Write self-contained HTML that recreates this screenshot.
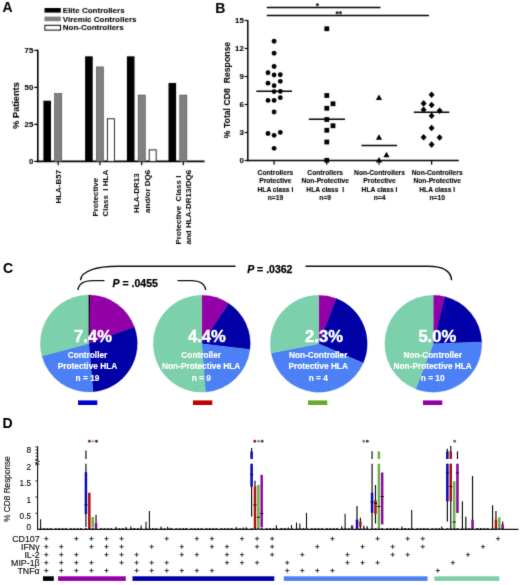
<!DOCTYPE html>
<html><head><meta charset="utf-8"><title>Figure</title>
<style>
html,body{margin:0;padding:0;background:#fff;}
body{width:520px;height:585px;overflow:hidden;}
svg{display:block;}
</style></head>
<body>
<svg width="520" height="585" viewBox="0 0 520 585">
<defs>
<filter id="soft" x="0" y="0" width="520" height="585" filterUnits="userSpaceOnUse" color-interpolation-filters="sRGB"><feConvolveMatrix order="3" kernelMatrix="0.03 0.17 0.03 0.17 1 0.17 0.03 0.17 0.03" divisor="1.800" edgeMode="duplicate" preserveAlpha="false"/></filter>
<filter id="soft2" x="0" y="0" width="520" height="585" filterUnits="userSpaceOnUse" color-interpolation-filters="sRGB"><feConvolveMatrix order="3" kernelMatrix="0.015 0.11 0.015 0.11 1 0.11 0.015 0.11 0.015" divisor="1.500" edgeMode="duplicate" preserveAlpha="false"/></filter>
</defs>
<rect width="520" height="585" fill="#fff"/>
<g filter="url(#soft2)">
<g id="panelC">
<text x="3" y="272.6" font-size="14" text-anchor="start" font-family="Liberation Sans, Arial, sans-serif" font-weight="bold" fill="#000" xml:space="preserve" stroke="#000" stroke-width="0.08" stroke-linejoin="round">C</text>
<path d="M88.80,343.50 L88.80,295.00 A48.5,48.5 0 0 1 90.15,295.02 Z" fill="#000" stroke="#000" stroke-width="0.3"/>
<path d="M88.80,343.50 L90.15,295.02 A48.5,48.5 0 0 1 134.38,326.91 Z" fill="#9400a8" stroke="#9400a8" stroke-width="0.3"/>
<path d="M88.80,343.50 L134.38,326.91 A48.5,48.5 0 0 1 93.03,391.82 Z" fill="#0000a6" stroke="#0000a6" stroke-width="0.3"/>
<path d="M88.80,343.50 L93.03,391.82 A48.5,48.5 0 0 1 41.95,356.05 Z" fill="#4c80f5" stroke="#4c80f5" stroke-width="0.3"/>
<path d="M88.80,343.50 L41.95,356.05 A48.5,48.5 0 0 1 88.80,295.00 Z" fill="#7dd0ac" stroke="#7dd0ac" stroke-width="0.3"/>
<line x1="89.20" y1="295.00" x2="89.20" y2="335.50" stroke="#000" stroke-width="1.0"/>
<text x="93" y="341.6" font-size="16.6" text-anchor="middle" font-family="Liberation Sans, Arial, sans-serif" font-weight="bold" fill="#fff" xml:space="preserve" stroke="#fff" stroke-width="0.45" stroke-linejoin="round">7.4%</text>
<text x="87.5" y="358.0" font-size="8.3" text-anchor="middle" font-family="Liberation Sans, Arial, sans-serif" font-weight="bold" fill="#fff" xml:space="preserve" stroke="#fff" stroke-width="0.15" stroke-linejoin="round">Controller</text>
<text x="87.5" y="369.2" font-size="8.3" text-anchor="middle" font-family="Liberation Sans, Arial, sans-serif" font-weight="bold" fill="#fff" xml:space="preserve" stroke="#fff" stroke-width="0.15" stroke-linejoin="round">Protective HLA</text>
<text x="87.5" y="380.5" font-size="8.3" text-anchor="middle" font-family="Liberation Sans, Arial, sans-serif" font-weight="bold" fill="#fff" xml:space="preserve" stroke="#fff" stroke-width="0.15" stroke-linejoin="round">n = 19</text>
<rect x="78.00" y="400.40" width="19.30" height="4.60" fill="#0000cc"/>
<path d="M201.75,343.70 L201.75,295.20 A48.5,48.5 0 0 1 228.73,303.40 Z" fill="#9400a8" stroke="#9400a8" stroke-width="0.3"/>
<path d="M201.75,343.70 L228.73,303.40 A48.5,48.5 0 0 1 249.91,349.44 Z" fill="#0000a6" stroke="#0000a6" stroke-width="0.3"/>
<path d="M201.75,343.70 L249.91,349.44 A48.5,48.5 0 0 1 205.47,392.06 Z" fill="#4c80f5" stroke="#4c80f5" stroke-width="0.3"/>
<path d="M201.75,343.70 L205.47,392.06 A48.5,48.5 0 1 1 201.75,295.20 Z" fill="#7dd0ac" stroke="#7dd0ac" stroke-width="0.3"/>
<text x="206.8" y="341.6" font-size="16.6" text-anchor="middle" font-family="Liberation Sans, Arial, sans-serif" font-weight="bold" fill="#fff" xml:space="preserve" stroke="#fff" stroke-width="0.45" stroke-linejoin="round">4.4%</text>
<text x="201.2" y="358.0" font-size="8.3" text-anchor="middle" font-family="Liberation Sans, Arial, sans-serif" font-weight="bold" fill="#fff" xml:space="preserve" stroke="#fff" stroke-width="0.15" stroke-linejoin="round">Controller</text>
<text x="201.2" y="369.2" font-size="8.3" text-anchor="middle" font-family="Liberation Sans, Arial, sans-serif" font-weight="bold" fill="#fff" xml:space="preserve" stroke="#fff" stroke-width="0.15" stroke-linejoin="round">Non-Protective HLA</text>
<text x="201.2" y="380.5" font-size="8.3" text-anchor="middle" font-family="Liberation Sans, Arial, sans-serif" font-weight="bold" fill="#fff" xml:space="preserve" stroke="#fff" stroke-width="0.15" stroke-linejoin="round">n = 9</text>
<rect x="193.00" y="400.40" width="19.30" height="4.60" fill="#c00000"/>
<path d="M318.75,343.70 L318.75,295.20 A48.5,48.5 0 0 1 336.37,298.51 Z" fill="#9400a8" stroke="#9400a8" stroke-width="0.3"/>
<path d="M318.75,343.70 L336.37,298.51 A48.5,48.5 0 0 1 363.23,363.04 Z" fill="#0000a6" stroke="#0000a6" stroke-width="0.3"/>
<path d="M318.75,343.70 L363.23,363.04 A48.5,48.5 0 0 1 271.14,352.95 Z" fill="#4c80f5" stroke="#4c80f5" stroke-width="0.3"/>
<path d="M318.75,343.70 L271.14,352.95 A48.5,48.5 0 0 1 318.75,295.20 Z" fill="#7dd0ac" stroke="#7dd0ac" stroke-width="0.3"/>
<text x="324" y="341.6" font-size="16.6" text-anchor="middle" font-family="Liberation Sans, Arial, sans-serif" font-weight="bold" fill="#fff" xml:space="preserve" stroke="#fff" stroke-width="0.45" stroke-linejoin="round">2.3%</text>
<text x="318.2" y="358.0" font-size="8.3" text-anchor="middle" font-family="Liberation Sans, Arial, sans-serif" font-weight="bold" fill="#fff" xml:space="preserve" stroke="#fff" stroke-width="0.15" stroke-linejoin="round">Non-Controller</text>
<text x="318.2" y="369.2" font-size="8.3" text-anchor="middle" font-family="Liberation Sans, Arial, sans-serif" font-weight="bold" fill="#fff" xml:space="preserve" stroke="#fff" stroke-width="0.15" stroke-linejoin="round">Protective HLA</text>
<text x="318.2" y="380.5" font-size="8.3" text-anchor="middle" font-family="Liberation Sans, Arial, sans-serif" font-weight="bold" fill="#fff" xml:space="preserve" stroke="#fff" stroke-width="0.15" stroke-linejoin="round">n = 4</text>
<rect x="308.00" y="400.40" width="19.30" height="4.60" fill="#6aaa2a"/>
<path d="M433.25,343.70 L433.25,295.20 A48.5,48.5 0 0 1 444.98,296.64 Z" fill="#9400a8" stroke="#9400a8" stroke-width="0.3"/>
<path d="M433.25,343.70 L444.98,296.64 A48.5,48.5 0 0 1 481.72,342.01 Z" fill="#0000a6" stroke="#0000a6" stroke-width="0.3"/>
<path d="M433.25,343.70 L481.72,342.01 A48.5,48.5 0 0 1 415.63,388.89 Z" fill="#4c80f5" stroke="#4c80f5" stroke-width="0.3"/>
<path d="M433.25,343.70 L415.63,388.89 A48.5,48.5 0 0 1 433.25,295.20 Z" fill="#7dd0ac" stroke="#7dd0ac" stroke-width="0.3"/>
<text x="437.3" y="341.6" font-size="16.6" text-anchor="middle" font-family="Liberation Sans, Arial, sans-serif" font-weight="bold" fill="#fff" xml:space="preserve" stroke="#fff" stroke-width="0.45" stroke-linejoin="round">5.0%</text>
<text x="432.7" y="358.0" font-size="8.3" text-anchor="middle" font-family="Liberation Sans, Arial, sans-serif" font-weight="bold" fill="#fff" xml:space="preserve" stroke="#fff" stroke-width="0.15" stroke-linejoin="round">Non-Controller</text>
<text x="432.7" y="369.2" font-size="8.3" text-anchor="middle" font-family="Liberation Sans, Arial, sans-serif" font-weight="bold" fill="#fff" xml:space="preserve" stroke="#fff" stroke-width="0.15" stroke-linejoin="round">Non-Protective HLA</text>
<text x="432.7" y="380.5" font-size="8.3" text-anchor="middle" font-family="Liberation Sans, Arial, sans-serif" font-weight="bold" fill="#fff" xml:space="preserve" stroke="#fff" stroke-width="0.15" stroke-linejoin="round">n = 10</text>
<rect x="423.00" y="400.40" width="19.30" height="4.60" fill="#9400a8"/>
<path d="M80.5,280.2 C81,271 96,266.3 118,266.3 L235.5,266.3" fill="none" stroke="#111" stroke-width="1.4"/>
<path d="M305.5,266.3 L428,266.3 C444,266.3 451,272 451.6,280.2" fill="none" stroke="#111" stroke-width="1.4"/>
<path d="M78,290 C78.5,284 84,280.6 93,280.6 L104.5,280.6" fill="none" stroke="#111" stroke-width="1.4"/>
<path d="M177.5,280.6 L191,280.6 C200,280.6 205,284 205.6,290" fill="none" stroke="#111" stroke-width="1.4"/>
<text x="112.6" y="287.0" font-size="10.5" font-family="Liberation Sans, Arial, sans-serif" font-weight="bold" fill="#000" stroke="#000" stroke-width="0.25" xml:space="preserve"><tspan font-style="italic">P</tspan> = .0455</text>
<text x="247.2" y="272.6" font-size="10.5" font-family="Liberation Sans, Arial, sans-serif" font-weight="bold" fill="#000" stroke="#000" stroke-width="0.25" xml:space="preserve"><tspan font-style="italic">P</tspan> = .0362</text>
</g>
<g id="panelD">
<text x="2.5" y="428.2" font-size="14" text-anchor="start" font-family="Liberation Sans, Arial, sans-serif" font-weight="bold" fill="#000" xml:space="preserve" stroke="#000" stroke-width="0.08" stroke-linejoin="round">D</text>
<line x1="37.60" y1="464.00" x2="37.60" y2="530.00" stroke="#111" stroke-width="1.1"/>
<line x1="37.60" y1="446.60" x2="37.60" y2="460.20" stroke="#111" stroke-width="1.2"/>
<path d="M35.4,460.2 L39.4,461.4 L35.4,463 L39.4,464.2" fill="none" stroke="#111" stroke-width="1"/>
<line x1="35.40" y1="446.90" x2="37.60" y2="446.90" stroke="#111" stroke-width="0.9"/>
<line x1="35.40" y1="450.00" x2="37.60" y2="450.00" stroke="#111" stroke-width="0.9"/>
<line x1="35.40" y1="453.10" x2="37.60" y2="453.10" stroke="#111" stroke-width="0.9"/>
<line x1="35.40" y1="456.20" x2="37.60" y2="456.20" stroke="#111" stroke-width="0.9"/>
<line x1="35.40" y1="459.30" x2="37.60" y2="459.30" stroke="#111" stroke-width="0.9"/>
<line x1="37.00" y1="529.40" x2="518.50" y2="529.40" stroke="#111" stroke-width="1.2"/>
<line x1="35.40" y1="464.70" x2="37.60" y2="464.70" stroke="#111" stroke-width="0.9"/>
<text x="31.0" y="470" font-size="8.2" text-anchor="end" font-family="Liberation Sans, Arial, sans-serif" fill="#111" xml:space="preserve" stroke="#111" stroke-width="0.15" stroke-linejoin="round">2</text>
<line x1="35.40" y1="480.88" x2="37.60" y2="480.88" stroke="#111" stroke-width="0.9"/>
<text x="31.0" y="486" font-size="8.2" text-anchor="end" font-family="Liberation Sans, Arial, sans-serif" fill="#111" xml:space="preserve" stroke="#111" stroke-width="0.15" stroke-linejoin="round">1.5</text>
<line x1="35.40" y1="497.05" x2="37.60" y2="497.05" stroke="#111" stroke-width="0.9"/>
<text x="31.0" y="503" font-size="8.2" text-anchor="end" font-family="Liberation Sans, Arial, sans-serif" fill="#111" xml:space="preserve" stroke="#111" stroke-width="0.15" stroke-linejoin="round">1</text>
<line x1="35.40" y1="513.23" x2="37.60" y2="513.23" stroke="#111" stroke-width="0.9"/>
<text x="31.0" y="519" font-size="8.2" text-anchor="end" font-family="Liberation Sans, Arial, sans-serif" fill="#111" xml:space="preserve" stroke="#111" stroke-width="0.15" stroke-linejoin="round">0.5</text>
<text x="31.0" y="530" font-size="8.2" text-anchor="end" font-family="Liberation Sans, Arial, sans-serif" fill="#111" xml:space="preserve" stroke="#111" stroke-width="0.15" stroke-linejoin="round">0</text>
<text x="31.0" y="453" font-size="8.2" text-anchor="end" font-family="Liberation Sans, Arial, sans-serif" fill="#111" xml:space="preserve" stroke="#111" stroke-width="0.15" stroke-linejoin="round">8</text>
<text x="10.0" y="489" font-size="8.25" text-anchor="middle" font-family="Liberation Sans, Arial, sans-serif" fill="#111" xml:space="preserve" transform="rotate(-90 10.0 489)" stroke="#111" stroke-width="0.15" stroke-linejoin="round">% CD8 Response</text>
<line x1="40.60" y1="519.30" x2="40.60" y2="529.40" stroke="#111" stroke-width="1.1"/>
<line x1="116.00" y1="526.70" x2="116.00" y2="529.40" stroke="#111" stroke-width="1.1"/>
<line x1="126.00" y1="527.00" x2="126.00" y2="529.40" stroke="#111" stroke-width="1.1"/>
<line x1="130.80" y1="526.50" x2="130.80" y2="529.40" stroke="#111" stroke-width="1.1"/>
<line x1="133.90" y1="528.00" x2="133.90" y2="529.40" stroke="#111" stroke-width="1.1"/>
<line x1="141.10" y1="525.50" x2="141.10" y2="529.40" stroke="#111" stroke-width="1.1"/>
<line x1="146.00" y1="521.70" x2="146.00" y2="529.40" stroke="#111" stroke-width="1.1"/>
<line x1="149.40" y1="511.10" x2="149.40" y2="529.40" stroke="#111" stroke-width="1.1"/>
<line x1="161.00" y1="526.50" x2="161.00" y2="529.40" stroke="#111" stroke-width="1.1"/>
<line x1="167.60" y1="526.70" x2="167.60" y2="529.40" stroke="#111" stroke-width="1.1"/>
<line x1="170.50" y1="527.80" x2="170.50" y2="529.40" stroke="#111" stroke-width="1.1"/>
<line x1="185.80" y1="528.00" x2="185.80" y2="529.40" stroke="#111" stroke-width="1.1"/>
<line x1="236.30" y1="527.00" x2="236.30" y2="529.40" stroke="#111" stroke-width="1.1"/>
<line x1="243.20" y1="527.50" x2="243.20" y2="529.40" stroke="#111" stroke-width="1.1"/>
<line x1="246.20" y1="527.20" x2="246.20" y2="529.40" stroke="#111" stroke-width="1.1"/>
<line x1="276.40" y1="525.30" x2="276.40" y2="529.40" stroke="#111" stroke-width="1.1"/>
<line x1="281.00" y1="528.00" x2="281.00" y2="529.40" stroke="#111" stroke-width="1.1"/>
<line x1="284.40" y1="528.00" x2="284.40" y2="529.40" stroke="#111" stroke-width="1.1"/>
<line x1="288.30" y1="527.60" x2="288.30" y2="529.40" stroke="#111" stroke-width="1.1"/>
<line x1="291.50" y1="525.00" x2="291.50" y2="529.40" stroke="#111" stroke-width="1.1"/>
<line x1="296.50" y1="522.50" x2="296.50" y2="529.40" stroke="#111" stroke-width="1.1"/>
<line x1="299.80" y1="523.50" x2="299.80" y2="529.40" stroke="#111" stroke-width="1.1"/>
<line x1="306.50" y1="512.90" x2="306.50" y2="529.40" stroke="#111" stroke-width="1.1"/>
<line x1="341.70" y1="526.30" x2="341.70" y2="529.40" stroke="#111" stroke-width="1.1"/>
<line x1="345.10" y1="513.80" x2="345.10" y2="529.40" stroke="#111" stroke-width="1.1"/>
<line x1="402.00" y1="526.50" x2="402.00" y2="529.40" stroke="#111" stroke-width="1.1"/>
<line x1="404.80" y1="528.00" x2="404.80" y2="529.40" stroke="#111" stroke-width="1.1"/>
<line x1="411.70" y1="510.00" x2="411.70" y2="529.40" stroke="#111" stroke-width="1.1"/>
<line x1="441.70" y1="526.50" x2="441.70" y2="529.40" stroke="#111" stroke-width="1.1"/>
<line x1="477.00" y1="528.00" x2="477.00" y2="529.40" stroke="#111" stroke-width="1.1"/>
<line x1="480.60" y1="528.00" x2="480.60" y2="529.40" stroke="#111" stroke-width="1.1"/>
<line x1="85.93" y1="450.60" x2="85.93" y2="459.00" stroke="#111" stroke-width="1.2"/>
<line x1="85.93" y1="463.80" x2="85.93" y2="527.00" stroke="#111" stroke-width="1.2"/>
<line x1="85.93" y1="472.20" x2="85.93" y2="514.00" stroke="#0a0ab8" stroke-width="2.5"/>
<line x1="84.33" y1="505.00" x2="87.53" y2="505.00" stroke="#111" stroke-width="1.0"/>
<line x1="89.33" y1="492.80" x2="89.33" y2="529.40" stroke="#b01010" stroke-width="2.5"/>
<line x1="92.73" y1="517.00" x2="92.73" y2="527.60" stroke="#6eaf4b" stroke-width="2.5"/>
<line x1="96.03" y1="514.80" x2="96.03" y2="529.40" stroke="#111" stroke-width="1.2"/>
<line x1="96.03" y1="523.00" x2="96.03" y2="529.40" stroke="#8a0aa0" stroke-width="2.5"/>
<line x1="251.59" y1="448.00" x2="251.59" y2="459.00" stroke="#111" stroke-width="1.2"/>
<line x1="251.59" y1="463.80" x2="251.59" y2="516.60" stroke="#111" stroke-width="1.2"/>
<line x1="251.59" y1="451.40" x2="251.59" y2="459.00" stroke="#0a0ab8" stroke-width="2.5"/>
<line x1="251.59" y1="463.80" x2="251.59" y2="486.70" stroke="#0a0ab8" stroke-width="2.5"/>
<line x1="249.99" y1="474.40" x2="253.19" y2="474.40" stroke="#111" stroke-width="1.0"/>
<line x1="254.99" y1="480.80" x2="254.99" y2="529.40" stroke="#111" stroke-width="1.2"/>
<line x1="254.99" y1="486.70" x2="254.99" y2="529.40" stroke="#b01010" stroke-width="2.5"/>
<line x1="253.39" y1="504.90" x2="256.59" y2="504.90" stroke="#111" stroke-width="1.0"/>
<line x1="258.39" y1="485.00" x2="258.39" y2="529.40" stroke="#6eaf4b" stroke-width="2.5"/>
<line x1="256.79" y1="517.20" x2="259.99" y2="517.20" stroke="#111" stroke-width="1.0"/>
<line x1="261.69" y1="474.80" x2="261.69" y2="527.40" stroke="#8a0aa0" stroke-width="2.5"/>
<line x1="260.09" y1="513.50" x2="263.29" y2="513.50" stroke="#111" stroke-width="1.0"/>
<line x1="352.05" y1="525.40" x2="352.05" y2="529.40" stroke="#8a0aa0" stroke-width="2.5"/>
<line x1="357.01" y1="506.10" x2="357.01" y2="529.40" stroke="#111" stroke-width="1.2"/>
<line x1="357.01" y1="519.60" x2="357.01" y2="529.40" stroke="#0a0ab8" stroke-width="2.5"/>
<line x1="360.41" y1="517.70" x2="360.41" y2="528.00" stroke="#111" stroke-width="1.2"/>
<line x1="360.41" y1="521.50" x2="360.41" y2="526.50" stroke="#b01010" stroke-width="2.5"/>
<line x1="363.81" y1="525.80" x2="363.81" y2="529.40" stroke="#111" stroke-width="1.2"/>
<line x1="367.11" y1="526.30" x2="367.11" y2="529.40" stroke="#111" stroke-width="1.2"/>
<line x1="372.07" y1="451.30" x2="372.07" y2="459.00" stroke="#111" stroke-width="1.2"/>
<line x1="372.07" y1="463.80" x2="372.07" y2="529.40" stroke="#111" stroke-width="1.2"/>
<line x1="372.07" y1="492.70" x2="372.07" y2="512.90" stroke="#0a0ab8" stroke-width="2.5"/>
<line x1="370.47" y1="502.00" x2="373.67" y2="502.00" stroke="#111" stroke-width="1.0"/>
<line x1="375.47" y1="485.00" x2="375.47" y2="523.50" stroke="#111" stroke-width="1.2"/>
<line x1="375.47" y1="500.40" x2="375.47" y2="513.80" stroke="#b01010" stroke-width="2.5"/>
<line x1="373.87" y1="503.30" x2="377.07" y2="503.30" stroke="#111" stroke-width="1.0"/>
<line x1="378.87" y1="451.30" x2="378.87" y2="459.00" stroke="#6eaf4b" stroke-width="2.5"/>
<line x1="378.87" y1="463.80" x2="378.87" y2="528.30" stroke="#6eaf4b" stroke-width="2.5"/>
<line x1="377.27" y1="506.50" x2="380.47" y2="506.50" stroke="#111" stroke-width="1.0"/>
<line x1="382.17" y1="472.50" x2="382.17" y2="524.40" stroke="#8a0aa0" stroke-width="2.5"/>
<line x1="380.57" y1="496.50" x2="383.77" y2="496.50" stroke="#111" stroke-width="1.0"/>
<line x1="447.37" y1="448.80" x2="447.37" y2="459.00" stroke="#111" stroke-width="1.2"/>
<line x1="447.37" y1="463.80" x2="447.37" y2="521.50" stroke="#111" stroke-width="1.2"/>
<line x1="447.37" y1="451.30" x2="447.37" y2="459.00" stroke="#0a0ab8" stroke-width="2.5"/>
<line x1="447.37" y1="463.80" x2="447.37" y2="501.30" stroke="#0a0ab8" stroke-width="2.5"/>
<line x1="445.77" y1="472.90" x2="448.97" y2="472.90" stroke="#111" stroke-width="1.0"/>
<line x1="450.77" y1="446.00" x2="450.77" y2="459.00" stroke="#111" stroke-width="1.2"/>
<line x1="450.77" y1="463.80" x2="450.77" y2="529.40" stroke="#111" stroke-width="1.2"/>
<line x1="450.77" y1="451.30" x2="450.77" y2="459.00" stroke="#b01010" stroke-width="2.5"/>
<line x1="450.77" y1="463.80" x2="450.77" y2="501.30" stroke="#b01010" stroke-width="2.5"/>
<line x1="449.17" y1="486.50" x2="452.37" y2="486.50" stroke="#111" stroke-width="1.0"/>
<line x1="454.17" y1="481.20" x2="454.17" y2="528.80" stroke="#6eaf4b" stroke-width="2.5"/>
<line x1="452.57" y1="522.00" x2="455.77" y2="522.00" stroke="#111" stroke-width="1.0"/>
<line x1="457.47" y1="451.30" x2="457.47" y2="459.00" stroke="#111" stroke-width="1.2"/>
<line x1="457.47" y1="463.80" x2="457.47" y2="512.90" stroke="#111" stroke-width="1.2"/>
<line x1="457.47" y1="463.80" x2="457.47" y2="512.90" stroke="#8a0aa0" stroke-width="2.5"/>
<line x1="455.87" y1="473.00" x2="459.07" y2="473.00" stroke="#111" stroke-width="1.0"/>
<line x1="462.43" y1="501.30" x2="462.43" y2="529.40" stroke="#111" stroke-width="1.2"/>
<line x1="465.83" y1="516.70" x2="465.83" y2="529.40" stroke="#111" stroke-width="1.2"/>
<line x1="472.53" y1="476.00" x2="472.53" y2="529.40" stroke="#111" stroke-width="1.2"/>
<line x1="472.53" y1="519.60" x2="472.53" y2="529.40" stroke="#8a0aa0" stroke-width="2.5"/>
<line x1="492.55" y1="505.20" x2="492.55" y2="529.40" stroke="#111" stroke-width="1.2"/>
<line x1="495.95" y1="511.00" x2="495.95" y2="529.40" stroke="#111" stroke-width="1.2"/>
<line x1="495.95" y1="519.60" x2="495.95" y2="529.40" stroke="#b01010" stroke-width="2.5"/>
<line x1="499.35" y1="517.30" x2="499.35" y2="529.40" stroke="#6eaf4b" stroke-width="2.5"/>
<line x1="502.65" y1="521.50" x2="502.65" y2="529.40" stroke="#111" stroke-width="1.2"/>
<line x1="502.65" y1="524.40" x2="502.65" y2="529.40" stroke="#8a0aa0" stroke-width="2.5"/>
<circle cx="89.40" cy="441.2" r="1.45" fill="#7a3a28"/>
<circle cx="93.00" cy="441.2" r="1.45" fill="#b8aea0"/>
<circle cx="96.50" cy="441.2" r="1.45" fill="#4a2a6a"/>
<circle cx="254.80" cy="441.2" r="1.45" fill="#8c2034"/>
<circle cx="258.50" cy="441.2" r="1.45" fill="#9a9a7c"/>
<circle cx="262.10" cy="441.2" r="1.45" fill="#504678"/>
<circle cx="363.70" cy="441.2" r="1.45" fill="#848e7a"/>
<circle cx="367.30" cy="441.2" r="1.45" fill="#50405c"/>
<circle cx="454.65" cy="441.2" r="1.45" fill="#667f54"/>
<path d="M39.75,528.50h2M43.15,528.50h2M46.55,528.50h2M49.85,528.50h2M54.81,528.50h2M58.21,528.50h2M61.61,528.50h2M64.91,528.50h2M69.87,528.50h2M73.27,528.50h2M76.67,528.50h2M79.97,528.50h2M84.93,528.50h2M88.33,528.50h2M91.73,528.50h2M95.03,528.50h2M99.99,528.50h2M103.39,528.50h2M106.79,528.50h2M110.09,528.50h2M115.05,528.50h2M118.45,528.50h2M121.85,528.50h2M125.15,528.50h2M130.11,528.50h2M133.51,528.50h2M136.91,528.50h2M140.21,528.50h2M145.17,528.50h2M148.57,528.50h2M151.97,528.50h2M155.27,528.50h2M160.23,528.50h2M163.63,528.50h2M167.03,528.50h2M170.33,528.50h2M175.29,528.50h2M178.69,528.50h2M182.09,528.50h2M185.39,528.50h2M190.35,528.50h2M193.75,528.50h2M197.15,528.50h2M200.45,528.50h2M205.41,528.50h2M208.81,528.50h2M212.21,528.50h2M215.51,528.50h2M220.47,528.50h2M223.87,528.50h2M227.27,528.50h2M230.57,528.50h2M235.53,528.50h2M238.93,528.50h2M242.33,528.50h2M245.63,528.50h2M250.59,528.50h2M253.99,528.50h2M257.39,528.50h2M260.69,528.50h2M265.65,528.50h2M269.05,528.50h2M272.45,528.50h2M275.75,528.50h2M280.71,528.50h2M284.11,528.50h2M287.51,528.50h2M290.81,528.50h2M295.77,528.50h2M299.17,528.50h2M302.57,528.50h2M305.87,528.50h2M310.83,528.50h2M314.23,528.50h2M317.63,528.50h2M320.93,528.50h2M325.89,528.50h2M329.29,528.50h2M332.69,528.50h2M335.99,528.50h2M340.95,528.50h2M344.35,528.50h2M347.75,528.50h2M351.05,528.50h2M356.01,528.50h2M359.41,528.50h2M362.81,528.50h2M366.11,528.50h2M371.07,528.50h2M374.47,528.50h2M377.87,528.50h2M381.17,528.50h2M386.13,528.50h2M389.53,528.50h2M392.93,528.50h2M396.23,528.50h2M401.19,528.50h2M404.59,528.50h2M407.99,528.50h2M411.29,528.50h2M416.25,528.50h2M419.65,528.50h2M423.05,528.50h2M426.35,528.50h2M431.31,528.50h2M434.71,528.50h2M438.11,528.50h2M441.41,528.50h2M446.37,528.50h2M449.77,528.50h2M453.17,528.50h2M456.47,528.50h2M461.43,528.50h2M464.83,528.50h2M468.23,528.50h2M471.53,528.50h2M476.49,528.50h2M479.89,528.50h2M483.29,528.50h2M486.59,528.50h2M491.55,528.50h2M494.95,528.50h2M498.35,528.50h2M501.65,528.50h2" stroke="#222" stroke-width="0.9" fill="none"/>
<text x="39.6" y="541.9000000000001" font-size="8.8" text-anchor="end" font-family="Liberation Sans, Arial, sans-serif" fill="#111" xml:space="preserve" stroke="#111" stroke-width="0.15" stroke-linejoin="round">CD107</text>
<text x="39.6" y="549.9000000000001" font-size="8.8" text-anchor="end" font-family="Liberation Sans, Arial, sans-serif" fill="#111" xml:space="preserve" stroke="#111" stroke-width="0.15" stroke-linejoin="round">IFNγ</text>
<text x="39.6" y="557.9000000000001" font-size="8.8" text-anchor="end" font-family="Liberation Sans, Arial, sans-serif" fill="#111" xml:space="preserve" stroke="#111" stroke-width="0.15" stroke-linejoin="round">IL-2</text>
<text x="39.6" y="565.9000000000001" font-size="8.8" text-anchor="end" font-family="Liberation Sans, Arial, sans-serif" fill="#111" xml:space="preserve" stroke="#111" stroke-width="0.15" stroke-linejoin="round">MIP-1β</text>
<text x="39.6" y="573.8000000000001" font-size="8.8" text-anchor="end" font-family="Liberation Sans, Arial, sans-serif" fill="#111" xml:space="preserve" stroke="#111" stroke-width="0.15" stroke-linejoin="round">TNFα</text>
<line x1="44.15" y1="538.70" x2="48.35" y2="538.70" stroke="#222" stroke-width="0.9"/>
<line x1="46.25" y1="536.60" x2="46.25" y2="540.80" stroke="#222" stroke-width="0.9"/>
<line x1="44.15" y1="546.70" x2="48.35" y2="546.70" stroke="#222" stroke-width="0.9"/>
<line x1="46.25" y1="544.60" x2="46.25" y2="548.80" stroke="#222" stroke-width="0.9"/>
<line x1="44.15" y1="554.70" x2="48.35" y2="554.70" stroke="#222" stroke-width="0.9"/>
<line x1="46.25" y1="552.60" x2="46.25" y2="556.80" stroke="#222" stroke-width="0.9"/>
<line x1="44.15" y1="562.70" x2="48.35" y2="562.70" stroke="#222" stroke-width="0.9"/>
<line x1="46.25" y1="560.60" x2="46.25" y2="564.80" stroke="#222" stroke-width="0.9"/>
<line x1="44.15" y1="570.60" x2="48.35" y2="570.60" stroke="#222" stroke-width="0.9"/>
<line x1="46.25" y1="568.50" x2="46.25" y2="572.70" stroke="#222" stroke-width="0.9"/>
<line x1="59.21" y1="546.70" x2="63.41" y2="546.70" stroke="#222" stroke-width="0.9"/>
<line x1="61.31" y1="544.60" x2="61.31" y2="548.80" stroke="#222" stroke-width="0.9"/>
<line x1="59.21" y1="554.70" x2="63.41" y2="554.70" stroke="#222" stroke-width="0.9"/>
<line x1="61.31" y1="552.60" x2="61.31" y2="556.80" stroke="#222" stroke-width="0.9"/>
<line x1="59.21" y1="562.70" x2="63.41" y2="562.70" stroke="#222" stroke-width="0.9"/>
<line x1="61.31" y1="560.60" x2="61.31" y2="564.80" stroke="#222" stroke-width="0.9"/>
<line x1="59.21" y1="570.60" x2="63.41" y2="570.60" stroke="#222" stroke-width="0.9"/>
<line x1="61.31" y1="568.50" x2="61.31" y2="572.70" stroke="#222" stroke-width="0.9"/>
<line x1="74.27" y1="538.70" x2="78.47" y2="538.70" stroke="#222" stroke-width="0.9"/>
<line x1="76.37" y1="536.60" x2="76.37" y2="540.80" stroke="#222" stroke-width="0.9"/>
<line x1="74.27" y1="554.70" x2="78.47" y2="554.70" stroke="#222" stroke-width="0.9"/>
<line x1="76.37" y1="552.60" x2="76.37" y2="556.80" stroke="#222" stroke-width="0.9"/>
<line x1="74.27" y1="562.70" x2="78.47" y2="562.70" stroke="#222" stroke-width="0.9"/>
<line x1="76.37" y1="560.60" x2="76.37" y2="564.80" stroke="#222" stroke-width="0.9"/>
<line x1="74.27" y1="570.60" x2="78.47" y2="570.60" stroke="#222" stroke-width="0.9"/>
<line x1="76.37" y1="568.50" x2="76.37" y2="572.70" stroke="#222" stroke-width="0.9"/>
<line x1="89.33" y1="538.70" x2="93.53" y2="538.70" stroke="#222" stroke-width="0.9"/>
<line x1="91.43" y1="536.60" x2="91.43" y2="540.80" stroke="#222" stroke-width="0.9"/>
<line x1="89.33" y1="546.70" x2="93.53" y2="546.70" stroke="#222" stroke-width="0.9"/>
<line x1="91.43" y1="544.60" x2="91.43" y2="548.80" stroke="#222" stroke-width="0.9"/>
<line x1="89.33" y1="562.70" x2="93.53" y2="562.70" stroke="#222" stroke-width="0.9"/>
<line x1="91.43" y1="560.60" x2="91.43" y2="564.80" stroke="#222" stroke-width="0.9"/>
<line x1="89.33" y1="570.60" x2="93.53" y2="570.60" stroke="#222" stroke-width="0.9"/>
<line x1="91.43" y1="568.50" x2="91.43" y2="572.70" stroke="#222" stroke-width="0.9"/>
<line x1="104.39" y1="538.70" x2="108.59" y2="538.70" stroke="#222" stroke-width="0.9"/>
<line x1="106.49" y1="536.60" x2="106.49" y2="540.80" stroke="#222" stroke-width="0.9"/>
<line x1="104.39" y1="546.70" x2="108.59" y2="546.70" stroke="#222" stroke-width="0.9"/>
<line x1="106.49" y1="544.60" x2="106.49" y2="548.80" stroke="#222" stroke-width="0.9"/>
<line x1="104.39" y1="554.70" x2="108.59" y2="554.70" stroke="#222" stroke-width="0.9"/>
<line x1="106.49" y1="552.60" x2="106.49" y2="556.80" stroke="#222" stroke-width="0.9"/>
<line x1="104.39" y1="570.60" x2="108.59" y2="570.60" stroke="#222" stroke-width="0.9"/>
<line x1="106.49" y1="568.50" x2="106.49" y2="572.70" stroke="#222" stroke-width="0.9"/>
<line x1="119.45" y1="538.70" x2="123.65" y2="538.70" stroke="#222" stroke-width="0.9"/>
<line x1="121.55" y1="536.60" x2="121.55" y2="540.80" stroke="#222" stroke-width="0.9"/>
<line x1="119.45" y1="546.70" x2="123.65" y2="546.70" stroke="#222" stroke-width="0.9"/>
<line x1="121.55" y1="544.60" x2="121.55" y2="548.80" stroke="#222" stroke-width="0.9"/>
<line x1="119.45" y1="554.70" x2="123.65" y2="554.70" stroke="#222" stroke-width="0.9"/>
<line x1="121.55" y1="552.60" x2="121.55" y2="556.80" stroke="#222" stroke-width="0.9"/>
<line x1="119.45" y1="562.70" x2="123.65" y2="562.70" stroke="#222" stroke-width="0.9"/>
<line x1="121.55" y1="560.60" x2="121.55" y2="564.80" stroke="#222" stroke-width="0.9"/>
<line x1="134.51" y1="554.70" x2="138.71" y2="554.70" stroke="#222" stroke-width="0.9"/>
<line x1="136.61" y1="552.60" x2="136.61" y2="556.80" stroke="#222" stroke-width="0.9"/>
<line x1="134.51" y1="562.70" x2="138.71" y2="562.70" stroke="#222" stroke-width="0.9"/>
<line x1="136.61" y1="560.60" x2="136.61" y2="564.80" stroke="#222" stroke-width="0.9"/>
<line x1="134.51" y1="570.60" x2="138.71" y2="570.60" stroke="#222" stroke-width="0.9"/>
<line x1="136.61" y1="568.50" x2="136.61" y2="572.70" stroke="#222" stroke-width="0.9"/>
<line x1="149.57" y1="546.70" x2="153.77" y2="546.70" stroke="#222" stroke-width="0.9"/>
<line x1="151.67" y1="544.60" x2="151.67" y2="548.80" stroke="#222" stroke-width="0.9"/>
<line x1="149.57" y1="562.70" x2="153.77" y2="562.70" stroke="#222" stroke-width="0.9"/>
<line x1="151.67" y1="560.60" x2="151.67" y2="564.80" stroke="#222" stroke-width="0.9"/>
<line x1="149.57" y1="570.60" x2="153.77" y2="570.60" stroke="#222" stroke-width="0.9"/>
<line x1="151.67" y1="568.50" x2="151.67" y2="572.70" stroke="#222" stroke-width="0.9"/>
<line x1="164.63" y1="538.70" x2="168.83" y2="538.70" stroke="#222" stroke-width="0.9"/>
<line x1="166.73" y1="536.60" x2="166.73" y2="540.80" stroke="#222" stroke-width="0.9"/>
<line x1="164.63" y1="562.70" x2="168.83" y2="562.70" stroke="#222" stroke-width="0.9"/>
<line x1="166.73" y1="560.60" x2="166.73" y2="564.80" stroke="#222" stroke-width="0.9"/>
<line x1="164.63" y1="570.60" x2="168.83" y2="570.60" stroke="#222" stroke-width="0.9"/>
<line x1="166.73" y1="568.50" x2="166.73" y2="572.70" stroke="#222" stroke-width="0.9"/>
<line x1="179.69" y1="546.70" x2="183.89" y2="546.70" stroke="#222" stroke-width="0.9"/>
<line x1="181.79" y1="544.60" x2="181.79" y2="548.80" stroke="#222" stroke-width="0.9"/>
<line x1="179.69" y1="554.70" x2="183.89" y2="554.70" stroke="#222" stroke-width="0.9"/>
<line x1="181.79" y1="552.60" x2="181.79" y2="556.80" stroke="#222" stroke-width="0.9"/>
<line x1="179.69" y1="570.60" x2="183.89" y2="570.60" stroke="#222" stroke-width="0.9"/>
<line x1="181.79" y1="568.50" x2="181.79" y2="572.70" stroke="#222" stroke-width="0.9"/>
<line x1="194.75" y1="538.70" x2="198.95" y2="538.70" stroke="#222" stroke-width="0.9"/>
<line x1="196.85" y1="536.60" x2="196.85" y2="540.80" stroke="#222" stroke-width="0.9"/>
<line x1="194.75" y1="554.70" x2="198.95" y2="554.70" stroke="#222" stroke-width="0.9"/>
<line x1="196.85" y1="552.60" x2="196.85" y2="556.80" stroke="#222" stroke-width="0.9"/>
<line x1="194.75" y1="570.60" x2="198.95" y2="570.60" stroke="#222" stroke-width="0.9"/>
<line x1="196.85" y1="568.50" x2="196.85" y2="572.70" stroke="#222" stroke-width="0.9"/>
<line x1="209.81" y1="538.70" x2="214.01" y2="538.70" stroke="#222" stroke-width="0.9"/>
<line x1="211.91" y1="536.60" x2="211.91" y2="540.80" stroke="#222" stroke-width="0.9"/>
<line x1="209.81" y1="546.70" x2="214.01" y2="546.70" stroke="#222" stroke-width="0.9"/>
<line x1="211.91" y1="544.60" x2="211.91" y2="548.80" stroke="#222" stroke-width="0.9"/>
<line x1="209.81" y1="570.60" x2="214.01" y2="570.60" stroke="#222" stroke-width="0.9"/>
<line x1="211.91" y1="568.50" x2="211.91" y2="572.70" stroke="#222" stroke-width="0.9"/>
<line x1="224.87" y1="546.70" x2="229.07" y2="546.70" stroke="#222" stroke-width="0.9"/>
<line x1="226.97" y1="544.60" x2="226.97" y2="548.80" stroke="#222" stroke-width="0.9"/>
<line x1="224.87" y1="554.70" x2="229.07" y2="554.70" stroke="#222" stroke-width="0.9"/>
<line x1="226.97" y1="552.60" x2="226.97" y2="556.80" stroke="#222" stroke-width="0.9"/>
<line x1="224.87" y1="562.70" x2="229.07" y2="562.70" stroke="#222" stroke-width="0.9"/>
<line x1="226.97" y1="560.60" x2="226.97" y2="564.80" stroke="#222" stroke-width="0.9"/>
<line x1="239.93" y1="538.70" x2="244.13" y2="538.70" stroke="#222" stroke-width="0.9"/>
<line x1="242.03" y1="536.60" x2="242.03" y2="540.80" stroke="#222" stroke-width="0.9"/>
<line x1="239.93" y1="554.70" x2="244.13" y2="554.70" stroke="#222" stroke-width="0.9"/>
<line x1="242.03" y1="552.60" x2="242.03" y2="556.80" stroke="#222" stroke-width="0.9"/>
<line x1="239.93" y1="562.70" x2="244.13" y2="562.70" stroke="#222" stroke-width="0.9"/>
<line x1="242.03" y1="560.60" x2="242.03" y2="564.80" stroke="#222" stroke-width="0.9"/>
<line x1="254.99" y1="538.70" x2="259.19" y2="538.70" stroke="#222" stroke-width="0.9"/>
<line x1="257.09" y1="536.60" x2="257.09" y2="540.80" stroke="#222" stroke-width="0.9"/>
<line x1="254.99" y1="546.70" x2="259.19" y2="546.70" stroke="#222" stroke-width="0.9"/>
<line x1="257.09" y1="544.60" x2="257.09" y2="548.80" stroke="#222" stroke-width="0.9"/>
<line x1="254.99" y1="562.70" x2="259.19" y2="562.70" stroke="#222" stroke-width="0.9"/>
<line x1="257.09" y1="560.60" x2="257.09" y2="564.80" stroke="#222" stroke-width="0.9"/>
<line x1="270.05" y1="538.70" x2="274.25" y2="538.70" stroke="#222" stroke-width="0.9"/>
<line x1="272.15" y1="536.60" x2="272.15" y2="540.80" stroke="#222" stroke-width="0.9"/>
<line x1="270.05" y1="546.70" x2="274.25" y2="546.70" stroke="#222" stroke-width="0.9"/>
<line x1="272.15" y1="544.60" x2="272.15" y2="548.80" stroke="#222" stroke-width="0.9"/>
<line x1="270.05" y1="554.70" x2="274.25" y2="554.70" stroke="#222" stroke-width="0.9"/>
<line x1="272.15" y1="552.60" x2="272.15" y2="556.80" stroke="#222" stroke-width="0.9"/>
<line x1="285.11" y1="562.70" x2="289.31" y2="562.70" stroke="#222" stroke-width="0.9"/>
<line x1="287.21" y1="560.60" x2="287.21" y2="564.80" stroke="#222" stroke-width="0.9"/>
<line x1="285.11" y1="570.60" x2="289.31" y2="570.60" stroke="#222" stroke-width="0.9"/>
<line x1="287.21" y1="568.50" x2="287.21" y2="572.70" stroke="#222" stroke-width="0.9"/>
<line x1="300.17" y1="554.70" x2="304.37" y2="554.70" stroke="#222" stroke-width="0.9"/>
<line x1="302.27" y1="552.60" x2="302.27" y2="556.80" stroke="#222" stroke-width="0.9"/>
<line x1="300.17" y1="570.60" x2="304.37" y2="570.60" stroke="#222" stroke-width="0.9"/>
<line x1="302.27" y1="568.50" x2="302.27" y2="572.70" stroke="#222" stroke-width="0.9"/>
<line x1="315.23" y1="546.70" x2="319.43" y2="546.70" stroke="#222" stroke-width="0.9"/>
<line x1="317.33" y1="544.60" x2="317.33" y2="548.80" stroke="#222" stroke-width="0.9"/>
<line x1="315.23" y1="570.60" x2="319.43" y2="570.60" stroke="#222" stroke-width="0.9"/>
<line x1="317.33" y1="568.50" x2="317.33" y2="572.70" stroke="#222" stroke-width="0.9"/>
<line x1="330.29" y1="538.70" x2="334.49" y2="538.70" stroke="#222" stroke-width="0.9"/>
<line x1="332.39" y1="536.60" x2="332.39" y2="540.80" stroke="#222" stroke-width="0.9"/>
<line x1="330.29" y1="570.60" x2="334.49" y2="570.60" stroke="#222" stroke-width="0.9"/>
<line x1="332.39" y1="568.50" x2="332.39" y2="572.70" stroke="#222" stroke-width="0.9"/>
<line x1="345.35" y1="554.70" x2="349.55" y2="554.70" stroke="#222" stroke-width="0.9"/>
<line x1="347.45" y1="552.60" x2="347.45" y2="556.80" stroke="#222" stroke-width="0.9"/>
<line x1="345.35" y1="562.70" x2="349.55" y2="562.70" stroke="#222" stroke-width="0.9"/>
<line x1="347.45" y1="560.60" x2="347.45" y2="564.80" stroke="#222" stroke-width="0.9"/>
<line x1="360.41" y1="546.70" x2="364.61" y2="546.70" stroke="#222" stroke-width="0.9"/>
<line x1="362.51" y1="544.60" x2="362.51" y2="548.80" stroke="#222" stroke-width="0.9"/>
<line x1="360.41" y1="562.70" x2="364.61" y2="562.70" stroke="#222" stroke-width="0.9"/>
<line x1="362.51" y1="560.60" x2="362.51" y2="564.80" stroke="#222" stroke-width="0.9"/>
<line x1="375.47" y1="538.70" x2="379.67" y2="538.70" stroke="#222" stroke-width="0.9"/>
<line x1="377.57" y1="536.60" x2="377.57" y2="540.80" stroke="#222" stroke-width="0.9"/>
<line x1="375.47" y1="562.70" x2="379.67" y2="562.70" stroke="#222" stroke-width="0.9"/>
<line x1="377.57" y1="560.60" x2="377.57" y2="564.80" stroke="#222" stroke-width="0.9"/>
<line x1="390.53" y1="546.70" x2="394.73" y2="546.70" stroke="#222" stroke-width="0.9"/>
<line x1="392.63" y1="544.60" x2="392.63" y2="548.80" stroke="#222" stroke-width="0.9"/>
<line x1="390.53" y1="554.70" x2="394.73" y2="554.70" stroke="#222" stroke-width="0.9"/>
<line x1="392.63" y1="552.60" x2="392.63" y2="556.80" stroke="#222" stroke-width="0.9"/>
<line x1="405.59" y1="538.70" x2="409.79" y2="538.70" stroke="#222" stroke-width="0.9"/>
<line x1="407.69" y1="536.60" x2="407.69" y2="540.80" stroke="#222" stroke-width="0.9"/>
<line x1="405.59" y1="554.70" x2="409.79" y2="554.70" stroke="#222" stroke-width="0.9"/>
<line x1="407.69" y1="552.60" x2="407.69" y2="556.80" stroke="#222" stroke-width="0.9"/>
<line x1="420.65" y1="538.70" x2="424.85" y2="538.70" stroke="#222" stroke-width="0.9"/>
<line x1="422.75" y1="536.60" x2="422.75" y2="540.80" stroke="#222" stroke-width="0.9"/>
<line x1="420.65" y1="546.70" x2="424.85" y2="546.70" stroke="#222" stroke-width="0.9"/>
<line x1="422.75" y1="544.60" x2="422.75" y2="548.80" stroke="#222" stroke-width="0.9"/>
<line x1="435.71" y1="570.60" x2="439.91" y2="570.60" stroke="#222" stroke-width="0.9"/>
<line x1="437.81" y1="568.50" x2="437.81" y2="572.70" stroke="#222" stroke-width="0.9"/>
<line x1="450.77" y1="562.70" x2="454.97" y2="562.70" stroke="#222" stroke-width="0.9"/>
<line x1="452.87" y1="560.60" x2="452.87" y2="564.80" stroke="#222" stroke-width="0.9"/>
<line x1="465.83" y1="554.70" x2="470.03" y2="554.70" stroke="#222" stroke-width="0.9"/>
<line x1="467.93" y1="552.60" x2="467.93" y2="556.80" stroke="#222" stroke-width="0.9"/>
<line x1="480.89" y1="546.70" x2="485.09" y2="546.70" stroke="#222" stroke-width="0.9"/>
<line x1="482.99" y1="544.60" x2="482.99" y2="548.80" stroke="#222" stroke-width="0.9"/>
<line x1="495.95" y1="538.70" x2="500.15" y2="538.70" stroke="#222" stroke-width="0.9"/>
<line x1="498.05" y1="536.60" x2="498.05" y2="540.80" stroke="#222" stroke-width="0.9"/>
<rect x="43.00" y="576.30" width="10.80" height="4.60" fill="#000"/>
<rect x="58.00" y="576.30" width="67.80" height="4.60" fill="#9400a8"/>
<rect x="132.50" y="576.30" width="141.80" height="4.60" fill="#0000a6"/>
<rect x="283.80" y="576.30" width="143.70" height="4.60" fill="#4c80f5"/>
<rect x="434.40" y="576.30" width="65.00" height="4.60" fill="#7dd0ac"/>
</g>
</g>
<g filter="url(#soft)">
<g id="panelA">
<text x="2.5" y="12" font-size="14" text-anchor="start" font-family="Liberation Sans, Arial, sans-serif" font-weight="bold" fill="#000" xml:space="preserve" stroke="#000" stroke-width="0.08" stroke-linejoin="round">A</text>
<rect x="44.50" y="8.00" width="16.30" height="4.60" fill="#000"/>
<rect x="44.50" y="16.60" width="16.30" height="4.60" fill="#808080"/>
<rect x="44.90" y="25.30" width="15.60" height="4.80" fill="#fff" stroke="#000" stroke-width="1.0"/>
<text x="62.8" y="13.2" font-size="8" text-anchor="start" font-family="Liberation Sans, Arial, sans-serif" font-weight="bold" fill="#000" xml:space="preserve" stroke="#000" stroke-width="0.08" stroke-linejoin="round">Elite Controllers</text>
<text x="62.8" y="21.6" font-size="8" text-anchor="start" font-family="Liberation Sans, Arial, sans-serif" font-weight="bold" fill="#000" xml:space="preserve" stroke="#000" stroke-width="0.08" stroke-linejoin="round">Viremic Controllers</text>
<text x="62.8" y="30.2" font-size="8" text-anchor="start" font-family="Liberation Sans, Arial, sans-serif" font-weight="bold" fill="#000" xml:space="preserve" stroke="#000" stroke-width="0.08" stroke-linejoin="round">Non-Controllers</text>
<line x1="37.80" y1="49.70" x2="37.80" y2="162.20" stroke="#000" stroke-width="1.6"/>
<line x1="37.00" y1="161.40" x2="204.60" y2="161.40" stroke="#000" stroke-width="1.6"/>
<line x1="34.30" y1="161.40" x2="37.80" y2="161.40" stroke="#000" stroke-width="1.3"/>
<text x="33.3" y="164.3" font-size="7.8" text-anchor="end" font-family="Liberation Sans, Arial, sans-serif" font-weight="bold" fill="#000" xml:space="preserve" stroke="#000" stroke-width="0.12" stroke-linejoin="round">0</text>
<line x1="34.30" y1="124.40" x2="37.80" y2="124.40" stroke="#000" stroke-width="1.3"/>
<text x="33.3" y="127.30000000000001" font-size="7.8" text-anchor="end" font-family="Liberation Sans, Arial, sans-serif" font-weight="bold" fill="#000" xml:space="preserve" stroke="#000" stroke-width="0.12" stroke-linejoin="round">25</text>
<line x1="34.30" y1="87.40" x2="37.80" y2="87.40" stroke="#000" stroke-width="1.3"/>
<text x="33.3" y="90.30000000000001" font-size="7.8" text-anchor="end" font-family="Liberation Sans, Arial, sans-serif" font-weight="bold" fill="#000" xml:space="preserve" stroke="#000" stroke-width="0.12" stroke-linejoin="round">50</text>
<line x1="34.30" y1="50.40" x2="37.80" y2="50.40" stroke="#000" stroke-width="1.3"/>
<text x="33.3" y="53.300000000000004" font-size="7.8" text-anchor="end" font-family="Liberation Sans, Arial, sans-serif" font-weight="bold" fill="#000" xml:space="preserve" stroke="#000" stroke-width="0.12" stroke-linejoin="round">75</text>
<text x="19.3" y="105.5" font-size="9.2" text-anchor="middle" font-family="Liberation Sans, Arial, sans-serif" font-weight="bold" fill="#000" xml:space="preserve" transform="rotate(-90 19.3 105.5)" stroke="#000" stroke-width="0.08" stroke-linejoin="round">% Patients</text>
<rect x="43.40" y="100.72" width="7.60" height="60.68" fill="#000"/>
<rect x="54.65" y="93.57" width="7.10" height="67.83" fill="#808080" stroke="#444" stroke-width="0.6"/>
<line x1="58.20" y1="161.40" x2="58.20" y2="165.20" stroke="#000" stroke-width="1.2"/>
<rect x="85.10" y="56.32" width="7.60" height="105.08" fill="#000"/>
<rect x="96.35" y="66.93" width="7.10" height="94.47" fill="#808080" stroke="#444" stroke-width="0.6"/>
<rect x="107.40" y="118.78" width="7.00" height="42.62" fill="#fff" stroke="#111" stroke-width="0.9"/>
<line x1="99.90" y1="161.40" x2="99.90" y2="165.20" stroke="#000" stroke-width="1.2"/>
<rect x="126.90" y="56.32" width="7.60" height="105.08" fill="#000"/>
<rect x="138.15" y="95.05" width="7.10" height="66.35" fill="#808080" stroke="#444" stroke-width="0.6"/>
<rect x="149.20" y="149.86" width="7.00" height="11.54" fill="#fff" stroke="#111" stroke-width="0.9"/>
<line x1="141.70" y1="161.40" x2="141.70" y2="165.20" stroke="#000" stroke-width="1.2"/>
<rect x="168.50" y="82.96" width="7.60" height="78.44" fill="#000"/>
<rect x="179.75" y="95.05" width="7.10" height="66.35" fill="#808080" stroke="#444" stroke-width="0.6"/>
<line x1="183.30" y1="161.40" x2="183.30" y2="165.20" stroke="#000" stroke-width="1.2"/>
<text x="61.1" y="203.6" font-size="8" text-anchor="start" font-family="Liberation Sans, Arial, sans-serif" font-weight="bold" fill="#000" xml:space="preserve" transform="rotate(-90 61.1 203.6)">HLA-B57</text>
<text x="97.7" y="216.5" font-size="8" text-anchor="start" font-family="Liberation Sans, Arial, sans-serif" font-weight="bold" fill="#000" xml:space="preserve" transform="rotate(-90 97.7 216.5)">Protective</text>
<text x="107.9" y="216.5" font-size="8" text-anchor="start" font-family="Liberation Sans, Arial, sans-serif" font-weight="bold" fill="#000" xml:space="preserve" transform="rotate(-90 107.9 216.5)">Class  I HLA</text>
<text x="139.5" y="212.9" font-size="8" text-anchor="start" font-family="Liberation Sans, Arial, sans-serif" font-weight="bold" fill="#000" xml:space="preserve" transform="rotate(-90 139.5 212.9)">HLA-DR13</text>
<text x="149.7" y="212.9" font-size="8" text-anchor="start" font-family="Liberation Sans, Arial, sans-serif" font-weight="bold" fill="#000" xml:space="preserve" transform="rotate(-90 149.7 212.9)">and/or DQ6</text>
<text x="181.1" y="244.5" font-size="8" text-anchor="start" font-family="Liberation Sans, Arial, sans-serif" font-weight="bold" fill="#000" xml:space="preserve" transform="rotate(-90 181.1 244.5)">Protective  Class I</text>
<text x="191.3" y="244.5" font-size="8" text-anchor="start" font-family="Liberation Sans, Arial, sans-serif" font-weight="bold" fill="#000" xml:space="preserve" transform="rotate(-90 191.3 244.5)">and HLA-DR13/DQ6</text>
</g>
<g id="panelB">
<text x="215.3" y="12.6" font-size="14" text-anchor="start" font-family="Liberation Sans, Arial, sans-serif" font-weight="bold" fill="#000" xml:space="preserve" stroke="#000" stroke-width="0.08" stroke-linejoin="round">B</text>
<line x1="247.80" y1="19.90" x2="247.80" y2="161.20" stroke="#000" stroke-width="1.5"/>
<line x1="247.20" y1="160.50" x2="458.80" y2="160.50" stroke="#000" stroke-width="1.6"/>
<line x1="244.60" y1="160.50" x2="247.80" y2="160.50" stroke="#000" stroke-width="1.2"/>
<text x="243.8" y="163.4" font-size="7.8" text-anchor="end" font-family="Liberation Sans, Arial, sans-serif" font-weight="bold" fill="#000" xml:space="preserve" stroke="#000" stroke-width="0.12" stroke-linejoin="round">0</text>
<line x1="244.60" y1="132.50" x2="247.80" y2="132.50" stroke="#000" stroke-width="1.2"/>
<text x="243.8" y="135.4" font-size="7.8" text-anchor="end" font-family="Liberation Sans, Arial, sans-serif" font-weight="bold" fill="#000" xml:space="preserve" stroke="#000" stroke-width="0.12" stroke-linejoin="round">3</text>
<line x1="244.60" y1="104.50" x2="247.80" y2="104.50" stroke="#000" stroke-width="1.2"/>
<text x="243.8" y="107.4" font-size="7.8" text-anchor="end" font-family="Liberation Sans, Arial, sans-serif" font-weight="bold" fill="#000" xml:space="preserve" stroke="#000" stroke-width="0.12" stroke-linejoin="round">6</text>
<line x1="244.60" y1="76.50" x2="247.80" y2="76.50" stroke="#000" stroke-width="1.2"/>
<text x="243.8" y="79.4" font-size="7.8" text-anchor="end" font-family="Liberation Sans, Arial, sans-serif" font-weight="bold" fill="#000" xml:space="preserve" stroke="#000" stroke-width="0.12" stroke-linejoin="round">9</text>
<line x1="244.60" y1="48.50" x2="247.80" y2="48.50" stroke="#000" stroke-width="1.2"/>
<text x="243.8" y="51.4" font-size="7.8" text-anchor="end" font-family="Liberation Sans, Arial, sans-serif" font-weight="bold" fill="#000" xml:space="preserve" stroke="#000" stroke-width="0.12" stroke-linejoin="round">12</text>
<line x1="244.60" y1="20.50" x2="247.80" y2="20.50" stroke="#000" stroke-width="1.2"/>
<text x="243.8" y="23.4" font-size="7.8" text-anchor="end" font-family="Liberation Sans, Arial, sans-serif" font-weight="bold" fill="#000" xml:space="preserve" stroke="#000" stroke-width="0.12" stroke-linejoin="round">15</text>
<text x="230.3" y="90" font-size="8.7" text-anchor="middle" font-family="Liberation Sans, Arial, sans-serif" font-weight="bold" fill="#000" xml:space="preserve" transform="rotate(-90 230.3 90)" stroke="#000" stroke-width="0.08" stroke-linejoin="round">% Total CD8  Response</text>
<line x1="266.80" y1="7.60" x2="380.50" y2="7.60" stroke="#000" stroke-width="1.5"/>
<line x1="266.80" y1="15.60" x2="429.00" y2="15.60" stroke="#000" stroke-width="1.5"/>
<text x="317.4" y="9.0" font-size="8.5" text-anchor="middle" font-family="Liberation Sans, Arial, sans-serif" font-weight="bold" fill="#000" xml:space="preserve" stroke="#000" stroke-width="0.08" stroke-linejoin="round">*</text>
<text x="338.8" y="17.0" font-size="8.5" text-anchor="middle" font-family="Liberation Sans, Arial, sans-serif" font-weight="bold" fill="#000" xml:space="preserve" stroke="#000" stroke-width="0.08" stroke-linejoin="round">**</text>
<line x1="274.10" y1="160.50" x2="274.10" y2="164.70" stroke="#000" stroke-width="1.2"/>
<line x1="326.80" y1="160.50" x2="326.80" y2="164.70" stroke="#000" stroke-width="1.2"/>
<line x1="379.00" y1="160.50" x2="379.00" y2="164.70" stroke="#000" stroke-width="1.2"/>
<line x1="431.60" y1="160.50" x2="431.60" y2="164.70" stroke="#000" stroke-width="1.2"/>
<circle cx="274.10" cy="41.25" r="2.4" fill="#000"/>
<circle cx="274.10" cy="53.25" r="2.4" fill="#000"/>
<circle cx="274.10" cy="66.50" r="2.4" fill="#000"/>
<circle cx="268.00" cy="72.75" r="2.4" fill="#000"/>
<circle cx="274.10" cy="75.00" r="2.4" fill="#000"/>
<circle cx="280.30" cy="74.75" r="2.4" fill="#000"/>
<circle cx="280.30" cy="81.30" r="2.4" fill="#000"/>
<circle cx="268.00" cy="83.20" r="2.4" fill="#000"/>
<circle cx="274.10" cy="85.70" r="2.4" fill="#000"/>
<circle cx="274.10" cy="91.60" r="2.4" fill="#000"/>
<circle cx="280.30" cy="91.40" r="2.4" fill="#000"/>
<circle cx="268.00" cy="100.40" r="2.4" fill="#000"/>
<circle cx="274.10" cy="100.40" r="2.4" fill="#000"/>
<circle cx="280.30" cy="97.70" r="2.4" fill="#000"/>
<circle cx="274.10" cy="112.00" r="2.4" fill="#000"/>
<circle cx="268.00" cy="133.50" r="2.4" fill="#000"/>
<circle cx="274.10" cy="135.30" r="2.4" fill="#000"/>
<circle cx="280.30" cy="132.40" r="2.4" fill="#000"/>
<circle cx="274.10" cy="148.30" r="2.4" fill="#000"/>
<rect x="324.40" y="26.35" width="4.80" height="4.80" fill="#000"/>
<rect x="324.40" y="93.10" width="4.80" height="4.80" fill="#000"/>
<rect x="330.60" y="101.35" width="4.80" height="4.80" fill="#000"/>
<rect x="324.40" y="105.85" width="4.80" height="4.80" fill="#000"/>
<rect x="324.40" y="117.10" width="4.80" height="4.80" fill="#000"/>
<rect x="330.60" y="123.35" width="4.80" height="4.80" fill="#000"/>
<rect x="324.40" y="127.85" width="4.80" height="4.80" fill="#000"/>
<rect x="324.40" y="139.60" width="4.80" height="4.80" fill="#000"/>
<rect x="324.40" y="157.90" width="4.80" height="4.80" fill="#000"/>
<polygon points="379.00,94.60 382.10,100.10 375.90,100.10" fill="#000"/>
<polygon points="379.00,134.30 382.10,139.80 375.90,139.80" fill="#000"/>
<polygon points="386.50,151.80 389.60,157.30 383.40,157.30" fill="#000"/>
<polygon points="379.00,157.10 382.10,162.60 375.90,162.60" fill="#000"/>
<polygon points="431.60,91.50 434.60,94.80 431.60,98.10 428.60,94.80" fill="#000"/>
<polygon points="423.60,100.10 426.60,103.40 423.60,106.70 420.60,103.40" fill="#000"/>
<polygon points="431.60,101.70 434.60,105.00 431.60,108.30 428.60,105.00" fill="#000"/>
<polygon points="423.60,106.50 426.60,109.80 423.60,113.10 420.60,109.80" fill="#000"/>
<polygon points="439.60,107.50 442.60,110.80 439.60,114.10 436.60,110.80" fill="#000"/>
<polygon points="431.60,112.40 434.60,115.70 431.60,119.00 428.60,115.70" fill="#000"/>
<polygon points="431.60,124.70 434.60,128.00 431.60,131.30 428.60,128.00" fill="#000"/>
<polygon points="423.60,133.90 426.60,137.20 423.60,140.50 420.60,137.20" fill="#000"/>
<polygon points="439.60,134.20 442.60,137.50 439.60,140.80 436.60,137.50" fill="#000"/>
<polygon points="431.60,141.30 434.60,144.60 431.60,147.90 428.60,144.60" fill="#000"/>
<line x1="256.30" y1="91.30" x2="292.00" y2="91.30" stroke="#000" stroke-width="1.5"/>
<line x1="308.80" y1="119.30" x2="345.00" y2="119.30" stroke="#000" stroke-width="1.5"/>
<line x1="361.50" y1="145.50" x2="397.00" y2="145.50" stroke="#000" stroke-width="1.5"/>
<line x1="413.80" y1="112.30" x2="449.30" y2="112.30" stroke="#000" stroke-width="1.5"/>
<text x="275.4" y="174.9" font-size="6.7" text-anchor="middle" font-family="Liberation Sans, Arial, sans-serif" font-weight="bold" fill="#000" xml:space="preserve" stroke="#000" stroke-width="0.12" stroke-linejoin="round">Controllers</text>
<text x="275.4" y="183.20000000000002" font-size="6.7" text-anchor="middle" font-family="Liberation Sans, Arial, sans-serif" font-weight="bold" fill="#000" xml:space="preserve" stroke="#000" stroke-width="0.12" stroke-linejoin="round">Protective</text>
<text x="275.4" y="191.5" font-size="6.7" text-anchor="middle" font-family="Liberation Sans, Arial, sans-serif" font-weight="bold" fill="#000" xml:space="preserve" stroke="#000" stroke-width="0.12" stroke-linejoin="round">HLA class I</text>
<text x="275.4" y="199.8" font-size="6.7" text-anchor="middle" font-family="Liberation Sans, Arial, sans-serif" font-weight="bold" fill="#000" xml:space="preserve" stroke="#000" stroke-width="0.12" stroke-linejoin="round">n=19</text>
<text x="325.2" y="174.9" font-size="6.7" text-anchor="middle" font-family="Liberation Sans, Arial, sans-serif" font-weight="bold" fill="#000" xml:space="preserve" stroke="#000" stroke-width="0.12" stroke-linejoin="round">Controllers</text>
<text x="325.2" y="183.20000000000002" font-size="6.7" text-anchor="middle" font-family="Liberation Sans, Arial, sans-serif" font-weight="bold" fill="#000" xml:space="preserve" stroke="#000" stroke-width="0.12" stroke-linejoin="round">Non-Protective</text>
<text x="325.2" y="191.5" font-size="6.7" text-anchor="middle" font-family="Liberation Sans, Arial, sans-serif" font-weight="bold" fill="#000" xml:space="preserve" stroke="#000" stroke-width="0.12" stroke-linejoin="round">HLA class  I</text>
<text x="325.2" y="199.8" font-size="6.7" text-anchor="middle" font-family="Liberation Sans, Arial, sans-serif" font-weight="bold" fill="#000" xml:space="preserve" stroke="#000" stroke-width="0.12" stroke-linejoin="round">n=9</text>
<text x="379.5" y="174.9" font-size="6.7" text-anchor="middle" font-family="Liberation Sans, Arial, sans-serif" font-weight="bold" fill="#000" xml:space="preserve" stroke="#000" stroke-width="0.12" stroke-linejoin="round">Non-Controllers</text>
<text x="379.5" y="183.20000000000002" font-size="6.7" text-anchor="middle" font-family="Liberation Sans, Arial, sans-serif" font-weight="bold" fill="#000" xml:space="preserve" stroke="#000" stroke-width="0.12" stroke-linejoin="round">Protective</text>
<text x="379.5" y="191.5" font-size="6.7" text-anchor="middle" font-family="Liberation Sans, Arial, sans-serif" font-weight="bold" fill="#000" xml:space="preserve" stroke="#000" stroke-width="0.12" stroke-linejoin="round">HLA class I</text>
<text x="379.5" y="199.8" font-size="6.7" text-anchor="middle" font-family="Liberation Sans, Arial, sans-serif" font-weight="bold" fill="#000" xml:space="preserve" stroke="#000" stroke-width="0.12" stroke-linejoin="round">n=4</text>
<text x="437.2" y="174.9" font-size="6.7" text-anchor="middle" font-family="Liberation Sans, Arial, sans-serif" font-weight="bold" fill="#000" xml:space="preserve" stroke="#000" stroke-width="0.12" stroke-linejoin="round">Non-Controllers</text>
<text x="437.2" y="183.20000000000002" font-size="6.7" text-anchor="middle" font-family="Liberation Sans, Arial, sans-serif" font-weight="bold" fill="#000" xml:space="preserve" stroke="#000" stroke-width="0.12" stroke-linejoin="round">Non-Protective</text>
<text x="437.2" y="191.5" font-size="6.7" text-anchor="middle" font-family="Liberation Sans, Arial, sans-serif" font-weight="bold" fill="#000" xml:space="preserve" stroke="#000" stroke-width="0.12" stroke-linejoin="round">HLA class I</text>
<text x="437.2" y="199.8" font-size="6.7" text-anchor="middle" font-family="Liberation Sans, Arial, sans-serif" font-weight="bold" fill="#000" xml:space="preserve" stroke="#000" stroke-width="0.12" stroke-linejoin="round">n=10</text>
</g>

</g>
</svg>
</body></html>
